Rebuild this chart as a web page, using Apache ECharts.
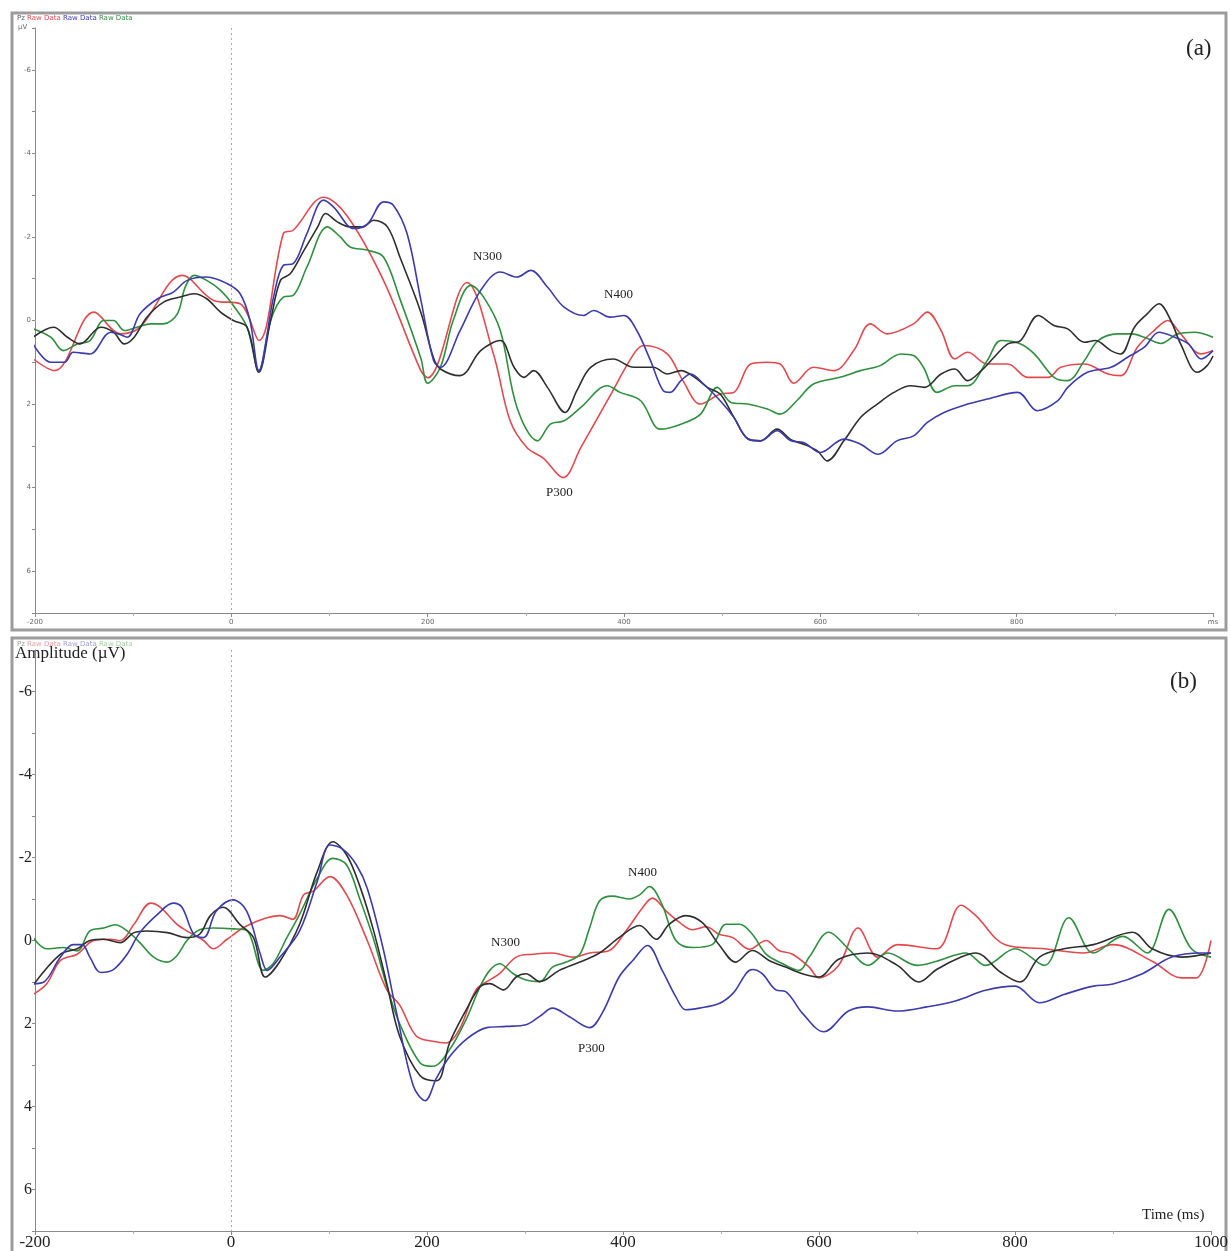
<!DOCTYPE html>
<html>
<head>
<meta charset="utf-8">
<script src="https://cdn.jsdelivr.net/npm/echarts@6/dist/echarts.min.js"></script>
<style>
html,body{margin:0;padding:0;background:#fff;}
#c{width:1231px;height:1251px;}
</style>
</head>
<body>
<div id="c"></div>
<script>
// ---------- Data (time in ms, amplitude in µV; negative plotted upward) ----------
const xTicks = [-200, 0, 200, 400, 600, 800, 1000];
const yTicks = [-6, -4, -2, 0, 2, 4, 6];

// Panel (a)
const aRed = [[-202,0.92],[-180,1.2],[-140,-0.2],[-113,0.32],[-93,0.16],[-50,-1.08],[-18,-0.48],[9,-0.4],[28,0.48],[53,-2.08],[63,-2.16],[94,-2.95],[118,-2.5],[155,-0.96],[193,1.2],[200,1.37],[240,-0.91],[267,0.8],[284,2.4],[301,3.04],[318,3.3],[338,3.76],[356,3.04],[383,1.92],[410,0.8],[420,0.6],[444,0.8],[460,1.44],[478,2.0],[498,1.76],[512,1.72],[529,1.04],[546,1.0],[559,1.04],[573,1.5],[593,1.12],[614,1.2],[634,0.72],[651,0.08],[668,0.32],[695,0.08],[709,-0.2],[723,0.24],[737,0.92],[750,0.76],[770,1.04],[791,1.04],[811,1.36],[832,1.36],[845,1.12],[869,1.04],[893,1.28],[906,1.32],[923,0.64],[940,0.24],[954,0],[967,0.32],[988,0.8],[1000,0.72]];
const aBlue = [[-202,0.56],[-184,1.0],[-170,1.0],[-161,0.76],[-144,0.8],[-123,0.28],[-115,0.32],[-106,0.4],[-93,-0.16],[-75,-0.52],[-59,-0.68],[-45,-0.96],[-25,-1.04],[-4,-0.88],[9,-0.64],[19,0],[28,1.2],[43,-0.56],[53,-1.32],[63,-1.36],[77,-2.08],[94,-2.88],[104,-2.72],[125,-2.2],[139,-2.32],[155,-2.84],[165,-2.76],[179,-2.08],[193,-0.5],[206,0.96],[213,1.12],[233,0.24],[254,-0.72],[274,-1.16],[291,-1.04],[305,-1.2],[322,-0.8],[339,-0.32],[359,-0.12],[369,-0.24],[386,-0.08],[400,-0.12],[413,0.24],[427,0.96],[440,1.68],[447,1.72],[458,1.44],[468,1.28],[481,1.52],[498,1.92],[512,2.32],[526,2.83],[539,2.88],[556,2.64],[570,2.88],[583,2.92],[600,3.16],[624,2.84],[641,2.96],[659,3.2],[678,2.88],[695,2.76],[709,2.44],[726,2.2],[750,2.0],[770,1.88],[801,1.72],[821,2.16],[842,1.92],[852,1.6],[872,1.24],[896,1.12],[913,0.88],[930,0.64],[945,0.28],[961,0.4],[975,0.56],[988,0.92],[1000,0.72]];
const aBlack = [[-202,0.4],[-181,0.16],[-167,0.4],[-154,0.56],[-133,0.16],[-120,0.28],[-109,0.56],[-99,0.4],[-86,-0.08],[-69,-0.44],[-52,-0.56],[-38,-0.64],[-25,-0.52],[-11,-0.2],[2,0],[16,0.16],[28,1.24],[40,0],[50,-0.96],[60,-1.12],[74,-1.68],[88,-2.24],[96,-2.56],[108,-2.36],[121,-2.24],[134,-2.24],[145,-2.4],[159,-2.24],[172,-1.5],[193,-0.2],[206,0.9],[213,1.16],[233,1.32],[254,0.72],[274,0.48],[288,1.12],[298,1.36],[308,1.2],[322,1.6],[340,2.2],[352,1.68],[366,1.12],[389,0.92],[410,1.12],[430,1.12],[444,1.28],[458,1.2],[472,1.36],[485,1.6],[498,1.76],[512,2.32],[526,2.83],[539,2.88],[556,2.6],[570,2.85],[583,2.96],[597,3.12],[607,3.36],[624,2.88],[641,2.32],[658,2.0],[675,1.72],[692,1.56],[706,1.6],[723,1.28],[737,1.16],[750,1.44],[764,1.2],[777,0.88],[791,0.56],[804,0.48],[822,-0.12],[838,0.12],[852,0.2],[869,0.52],[880,0.48],[896,0.72],[906,0.8],[920,0.16],[933,-0.16],[945,-0.4],[957,0],[967,0.56],[984,1.24],[994,1.08],[1000,0.85]];
const aGreen = [[-202,0.2],[-184,0.4],[-171,0.72],[-157,0.56],[-144,0.48],[-130,0],[-120,0],[-109,0.24],[-96,0.16],[-82,0.08],[-69,0.08],[-55,-0.16],[-47,-0.8],[-38,-1.08],[-25,-0.96],[-11,-0.72],[2,-0.36],[16,0.16],[28,1.2],[40,0],[53,-0.56],[63,-0.6],[77,-1.28],[98,-2.24],[111,-2.0],[121,-1.76],[139,-1.68],[155,-1.52],[172,-0.5],[193,0.9],[200,1.5],[213,1.12],[226,0],[244,-0.84],[257,-0.56],[274,0.24],[291,2.08],[312,2.88],[325,2.48],[339,2.4],[356,2.08],[383,1.56],[396,1.72],[417,1.92],[437,2.6],[458,2.48],[478,2.24],[495,1.6],[509,1.96],[526,2.0],[546,2.12],[559,2.24],[576,1.92],[593,1.52],[620,1.36],[641,1.2],[661,1.08],[682,0.8],[695,0.84],[705,1.12],[719,1.72],[737,1.56],[750,1.56],[770,0.96],[784,0.48],[804,0.56],[818,0.8],[838,1.36],[852,1.44],[869,0.96],[883,0.48],[903,0.32],[917,0.32],[930,0.4],[947,0.55],[964,0.32],[981,0.28],[1000,0.4]];

// Panel (b)
const bRed = [[-202,1.3],[-188,1.04],[-174,0.48],[-157,0.33],[-140,0],[-123,-0.03],[-113,0],[-99,-0.39],[-82,-0.9],[-72,-0.8],[-55,-0.39],[-42,-0.19],[-28,0],[-18,0.2],[-4,-0.03],[12,-0.3],[23,-0.43],[37,-0.55],[50,-0.6],[63,-0.51],[74,-1.1],[84,-1.19],[101,-1.54],[118,-1.1],[139,0],[159,1.19],[172,1.55],[189,2.3],[206,2.43],[220,2.47],[233,2.15],[250,1.19],[264,0.95],[274,0.8],[291,0.4],[308,0.33],[328,0.3],[349,0.4],[366,0.3],[386,0.24],[403,-0.23],[420,-0.79],[430,-1.02],[444,-0.71],[458,-0.43],[471,-0.26],[485,-0.33],[498,-0.15],[512,-0.07],[529,0.21],[546,0],[559,0.24],[573,0.33],[590,0.64],[600,0.9],[620,0.6],[640,-0.3],[660,0.4],[680,0.1],[720,0.2],[745,-0.85],[760,-0.6],[790,0.1],[830,0.2],[870,0.3],[900,0.1],[940,0.5],[970,0.9],[985,0.9],[1000,0]];
const bBlue = [[-202,1.04],[-191,1.0],[-174,0.4],[-161,0.1],[-152,0.1],[-144,0.4],[-133,0.77],[-120,0.7],[-106,0.33],[-93,-0.19],[-75,-0.63],[-59,-0.9],[-50,-0.8],[-38,-0.15],[-28,-0.07],[-15,-0.71],[2,-0.98],[16,-0.71],[30,0.33],[37,0.72],[50,0.4],[70,-0.23],[88,-1.42],[101,-2.3],[114,-2.2],[128,-1.82],[139,-1.26],[155,0.17],[169,1.75],[186,3.5],[198,3.86],[210,3.3],[223,2.8],[240,2.38],[261,2.1],[281,2.07],[301,2.03],[315,1.83],[328,1.63],[345,1.83],[366,2.1],[379,1.74],[396,0.88],[410,0.48],[425,0.12],[440,0.72],[454,1.36],[464,1.67],[478,1.63],[498,1.52],[512,1.28],[532,0.7],[542,0.8],[556,1.19],[566,1.23],[583,1.75],[605,2.2],[630,1.7],[650,1.6],[680,1.7],[710,1.6],[740,1.45],[770,1.2],[800,1.1],[825,1.5],[850,1.3],[880,1.1],[900,1.05],[930,0.8],[960,0.4],[990,0.3],[1000,0.3]];
const bBlack = [[-202,1.08],[-174,0.33],[-157,0.2],[-144,0],[-130,-0.03],[-113,0.05],[-99,-0.19],[-86,-0.23],[-65,-0.19],[-45,-0.07],[-32,-0.15],[-21,-0.6],[-8,-0.8],[9,-0.39],[23,-0.07],[35,0.88],[50,0.5],[70,-0.39],[88,-1.66],[104,-2.38],[118,-2.06],[131,-1.34],[145,-0.28],[159,1.04],[172,2.3],[193,3.26],[210,3.38],[223,2.47],[240,1.67],[254,1.12],[264,1.04],[278,1.19],[291,0.88],[301,0.8],[315,0.99],[335,0.72],[356,0.52],[376,0.3],[396,-0.07],[417,-0.36],[434,-0.03],[447,-0.39],[464,-0.6],[481,-0.43],[498,0.1],[515,0.52],[532,0.24],[549,0.48],[566,0.64],[583,0.8],[600,0.88],[620,0.45],[650,0.3],[680,0.6],[702,1.0],[720,0.7],[745,0.4],[760,0.3],[785,0.76],[805,1.0],[825,0.4],[850,0.2],[880,0.1],[920,-0.2],[940,0.2],[970,0.4],[1000,0.3]];
const bGreen = [[-202,-0.07],[-188,0.2],[-171,0.17],[-157,0.25],[-144,-0.23],[-130,-0.3],[-118,-0.38],[-106,-0.23],[-93,0.05],[-79,0.4],[-65,0.52],[-55,0.36],[-45,0],[-32,-0.26],[-18,-0.3],[2,-0.28],[16,-0.24],[33,0.72],[43,0.56],[57,-0.07],[70,-0.63],[88,-1.5],[104,-1.98],[118,-1.82],[131,-1.03],[145,-0.07],[159,1.1],[172,2.0],[193,2.95],[206,3.03],[223,2.63],[240,1.9],[254,1.12],[264,0.72],[274,0.56],[288,0.8],[301,0.95],[315,0.99],[328,0.64],[342,0.52],[356,0.33],[366,-0.31],[376,-0.95],[389,-1.07],[406,-1.0],[417,-1.1],[427,-1.3],[440,-0.86],[454,0],[471,0.17],[491,0.1],[505,-0.39],[519,-0.39],[532,-0.15],[546,0.33],[563,0.56],[580,0.72],[590,0.4],[610,-0.2],[630,0.2],[650,0.6],[670,0.3],[700,0.6],[720,0.5],[750,0.3],[770,0.6],[800,0.2],[830,0.6],[855,-0.55],[880,0.3],[910,-0.1],[935,0.3],[957,-0.75],[980,0.2],[1000,0.4]];

const colors = {red:'#e04a4f', blue:'#3b3bab', black:'#2e2e2e', green:'#2f8f3f'};

// ---------- Chart ----------
const chart = echarts.init(document.getElementById('c'), null, {renderer:'canvas'});
const serif = '"Liberation Serif","DejaVu Serif",serif';
const sans = '"DejaVu Sans",Arial,sans-serif';

function lineSeries(data, color, idx){
  return {type:'line', data:data, xAxisIndex:idx, yAxisIndex:idx, showSymbol:false, symbol:'none',
    smooth:0.35, lineStyle:{color:color, width:1.6}, itemStyle:{color:color}, silent:true, z:3};
}
function zeroLine(idx){
  return {type:'line', data:[], xAxisIndex:idx, yAxisIndex:idx, silent:true,
    markLine:{symbol:'none', silent:true, label:{show:false},
      lineStyle:{color:'#aaa', type:[2,3], width:1}, data:[{xAxis:0}]}};
}
const evenOnly = v => (Math.round(v) % 2 === 0 && yTicks.indexOf(Math.round(v)) >= 0) ? String(v) : '';

const option = {
  animation:false,
  backgroundColor:'#fff',
  grid:[
    {left:35, top:28, width:1178, height:585, show:false},
    {left:35, top:650, width:1178, height:586, show:false}
  ],
  xAxis:[
    {gridIndex:0, type:'value', min:-200, max:1000, interval:200, position:'bottom',
      axisLine:{onZero:false, lineStyle:{color:'#8a8a8a', width:1}},
      axisTick:{show:true, length:4, lineStyle:{color:'#8a8a8a'}},
      minorTick:{show:true, splitNumber:2, length:3, lineStyle:{color:'#aaa'}},
      splitLine:{show:false},
      axisLabel:{fontSize:7, color:'#666', fontFamily:sans, margin:6,
        formatter: v => v === 1000 ? 'ms' : (xTicks.indexOf(v) >= 0 ? String(v) : '')}},
    {gridIndex:1, type:'value', min:-200, max:1000, interval:200, position:'bottom',
      axisLine:{onZero:false, lineStyle:{color:'#8a8a8a', width:1}},
      axisTick:{show:true, length:4, lineStyle:{color:'#8a8a8a'}},
      minorTick:{show:true, splitNumber:2, length:3, lineStyle:{color:'#aaa'}},
      splitLine:{show:false},
      axisLabel:{fontSize:17, color:'#222', fontFamily:serif, margin:3,
        formatter: v => xTicks.indexOf(v) >= 0 ? String(v) : ''}}
  ],
  yAxis:[
    {gridIndex:0, type:'value', inverse:true, min:-7, max:7, interval:1, position:'left',
      axisLine:{show:true, onZero:false, lineStyle:{color:'#8a8a8a', width:1}},
      axisTick:{show:true, length:3, lineStyle:{color:'#8a8a8a'}},
      splitLine:{show:false},
      axisLabel:{fontSize:7, color:'#666', fontFamily:sans, margin:4, formatter: evenOnly}},
    {gridIndex:1, type:'value', inverse:true, min:-7, max:7, interval:1, position:'left',
      axisLine:{show:true, onZero:false, lineStyle:{color:'#8a8a8a', width:1}},
      axisTick:{show:true, length:3, lineStyle:{color:'#8a8a8a'}},
      splitLine:{show:false},
      axisLabel:{fontSize:16, color:'#222', fontFamily:serif, margin:3, formatter: evenOnly}}
  ],
  series:[
    zeroLine(0), zeroLine(1),
    lineSeries(aRed, colors.red, 0),
    lineSeries(aGreen, colors.green, 0),
    lineSeries(aBlack, colors.black, 0),
    lineSeries(aBlue, colors.blue, 0),
    lineSeries(bRed, colors.red, 1),
    lineSeries(bGreen, colors.green, 1),
    lineSeries(bBlack, colors.black, 1),
    lineSeries(bBlue, colors.blue, 1)
  ],
  graphic:[
    {type:'rect', shape:{x:12, y:13, width:1214, height:617}, style:{fill:'none', stroke:'#9c9c9c', lineWidth:3}, silent:true},
    {type:'rect', shape:{x:12, y:638, width:1214, height:640}, style:{fill:'none', stroke:'#9c9c9c', lineWidth:3}, silent:true},
    {type:'text', left:17, top:15, style:{text:'{p|Pz }{r|Raw Data }{b|Raw Data }{g|Raw Data}', rich:{
      p:{fontSize:7, fill:'#555', fontFamily:sans}, r:{fontSize:7, fill:colors.red, fontFamily:sans},
      b:{fontSize:7, fill:colors.blue, fontFamily:sans}, g:{fontSize:7, fill:colors.green, fontFamily:sans}}}},
    {type:'text', left:18, top:24, style:{text:'µV', fontSize:7, fill:'#666', fontFamily:sans}},
    {type:'text', left:17, top:641, style:{text:'{p|Pz }{r|Raw Data }{b|Raw Data }{g|Raw Data}', rich:{
      p:{fontSize:7, fill:'#999', fontFamily:sans}, r:{fontSize:7, fill:'#e8a0a0', fontFamily:sans},
      b:{fontSize:7, fill:'#a0a0d8', fontFamily:sans}, g:{fontSize:7, fill:'#a0d0a0', fontFamily:sans}}}},
    {type:'text', left:15, top:645, style:{text:'Amplitude (µV)', fontSize:17, fill:'#222', fontFamily:serif}},
    {type:'text', left:1186, top:37, style:{text:'(a)', fontSize:23, fill:'#222', fontFamily:serif}},
    {type:'text', left:1170, top:670, style:{text:'(b)', fontSize:23, fill:'#222', fontFamily:serif}},
    {type:'text', left:1142, top:1208, style:{text:'Time (ms)', fontSize:15, fill:'#222', fontFamily:serif}},
    {type:'text', left:473, top:250, style:{text:'N300', fontSize:13, fill:'#222', fontFamily:serif}},
    {type:'text', left:604, top:288, style:{text:'N400', fontSize:13, fill:'#222', fontFamily:serif}},
    {type:'text', left:546, top:486, style:{text:'P300', fontSize:13, fill:'#222', fontFamily:serif}},
    {type:'text', left:491, top:936, style:{text:'N300', fontSize:13, fill:'#222', fontFamily:serif}},
    {type:'text', left:628, top:866, style:{text:'N400', fontSize:13, fill:'#222', fontFamily:serif}},
    {type:'text', left:578, top:1042, style:{text:'P300', fontSize:13, fill:'#222', fontFamily:serif}}
  ]
};
chart.setOption(option);
</script>
</body>
</html>
